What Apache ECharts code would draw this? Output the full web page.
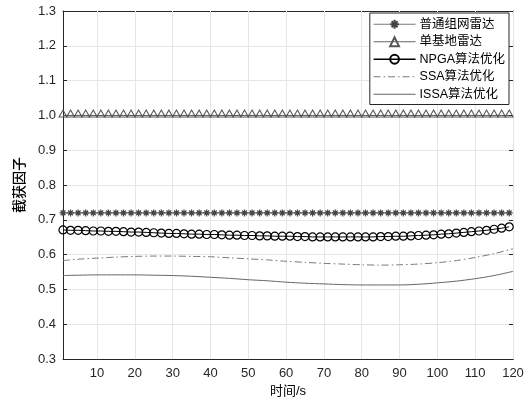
<!DOCTYPE html>
<html>
<head>
<meta charset="utf-8">
<script src="https://cdn.jsdelivr.net/npm/echarts@6/dist/echarts.min.js"></script>
<style>html,body{margin:0;padding:0;background:#fff}#c{width:532px;height:403px}</style>
</head>
<body>
<div id="c"></div>
<script>
// ---- data ----
var seriesNames = ['普通组网雷达', '单基地雷达', 'NPGA算法优化', 'SSA算法优化', 'ISSA算法优化'];
var timeMarked = [1,3,5,7,9,11,13,15,17,19,21,23,25,27,29,31,33,35,37,39,41,43,45,47,49,51,53,55,57,59,61,63,65,67,69,71,73,75,77,79,81,83,85,87,89,91,93,95,97,99,101,103,105,107,109,111,113,115,117,119];
var networkRadar = [0.72,0.72,0.72,0.72,0.72,0.72,0.72,0.72,0.72,0.72,0.72,0.72,0.72,0.72,0.72,0.72,0.72,0.72,0.72,0.72,0.72,0.72,0.72,0.72,0.72,0.72,0.72,0.72,0.72,0.72,0.72,0.72,0.72,0.72,0.72,0.72,0.72,0.72,0.72,0.72,0.72,0.72,0.72,0.72,0.72,0.72,0.72,0.72,0.72,0.72,0.72,0.72,0.72,0.72,0.72,0.72,0.72,0.72,0.72,0.72];
var monoRadar = [1.0,1.0,1.0,1.0,1.0,1.0,1.0,1.0,1.0,1.0,1.0,1.0,1.0,1.0,1.0,1.0,1.0,1.0,1.0,1.0,1.0,1.0,1.0,1.0,1.0,1.0,1.0,1.0,1.0,1.0,1.0,1.0,1.0,1.0,1.0,1.0,1.0,1.0,1.0,1.0,1.0,1.0,1.0,1.0,1.0,1.0,1.0,1.0,1.0,1.0,1.0,1.0,1.0,1.0,1.0,1.0,1.0,1.0,1.0,1.0];
var npga = [0.671,0.670,0.670,0.669,0.668,0.668,0.667,0.667,0.666,0.665,0.665,0.664,0.663,0.662,0.661,0.661,0.660,0.659,0.659,0.658,0.658,0.657,0.656,0.656,0.655,0.655,0.654,0.654,0.653,0.653,0.653,0.652,0.652,0.651,0.651,0.651,0.651,0.651,0.651,0.651,0.651,0.651,0.652,0.652,0.653,0.653,0.654,0.655,0.656,0.657,0.659,0.660,0.662,0.664,0.666,0.668,0.670,0.673,0.676,0.680];
var timeLine = [1,5,10,15,20,25,30,35,40,45,50,55,60,65,70,75,80,85,90,95,100,105,110,115,120];
var ssa = [0.583,0.587,0.590,0.593,0.595,0.596,0.596,0.595,0.594,0.591,0.588,0.585,0.581,0.578,0.575,0.573,0.571,0.570,0.571,0.573,0.577,0.583,0.592,0.603,0.617];
var issa = [0.540,0.541,0.542,0.542,0.542,0.541,0.540,0.538,0.535,0.532,0.528,0.525,0.521,0.518,0.516,0.514,0.513,0.513,0.513,0.515,0.519,0.524,0.531,0.540,0.552];
var xTicks = [10,20,30,40,50,60,70,80,90,100,110,120];
var xMin = 1, xMax = 120, yMin = 0.3, yMax = 1.3, yStep = 0.1;

function pairs(xs, ys) { return xs.map(function (x, i) { return [x, ys[i]]; }); }

var font = '"Liberation Sans", "Noto Sans CJK SC", sans-serif';
var axisColor = '#262626';
var gridColor = '#e6e6e6';
var asterisk = 'path://M5 0 L5 10 M0 5 L10 5 M1.6 1.6 L8.4 8.4 M8.4 1.6 L1.6 8.4';
var hidden = { color: 'rgba(0,0,0,0)', borderColor: 'rgba(0,0,0,0)', borderWidth: 0 };

var chart = echarts.init(document.getElementById('c'), null, { renderer: 'canvas' });
chart.setOption({
  animation: false,
  backgroundColor: '#fff',
  grid: { left: 63, right: 19, top: 11, bottom: 37, containLabel: false },
  legend: {
    orient: 'vertical',
    right: 23, top: 13, z: 20,
    data: [
      { name: seriesNames[0], lineStyle: { color: '#7a7a7a', width: 1 } },
      { name: seriesNames[1], lineStyle: { color: '#666', width: 1 } },
      { name: seriesNames[2], lineStyle: { color: '#000', width: 1.5 } },
      { name: seriesNames[3], itemStyle: hidden, lineStyle: { color: '#7a7a7a', width: 1 } },
      { name: seriesNames[4], itemStyle: hidden, lineStyle: { color: '#666', width: 1 } }
    ],
    backgroundColor: '#fff',
    borderColor: axisColor,
    borderWidth: 1,
    borderRadius: 0,
    padding: [5, 4, 4, 3],
    itemWidth: 42,
    itemHeight: 11,
    itemGap: 5,
    textStyle: { fontFamily: font, fontSize: 12.5, color: '#000', padding: [0, 0, 0, -1] }
  },
  xAxis: [{
    type: 'value', min: xMin, max: xMax,
    name: '时间/s', nameLocation: 'middle', nameGap: 22,
    nameTextStyle: { fontFamily: font, fontSize: 13, color: '#000' },
    axisLine: { show: true, onZero: false, lineStyle: { color: axisColor, width: 1 } },
    axisTick: { show: true, inside: true, length: 4, customValues: xTicks, lineStyle: { color: axisColor } },
    axisLabel: { customValues: xTicks, fontFamily: font, fontSize: 13, color: axisColor, margin: 8 },
    splitLine: { show: false }
  }, {
    type: 'value', min: xMin, max: xMax, position: 'top',
    axisLine: { show: true, onZero: false, lineStyle: { color: axisColor, width: 1 } },
    axisTick: { show: true, inside: true, length: 4, customValues: xTicks, lineStyle: { color: axisColor } },
    axisLabel: { show: false },
    splitLine: { show: false }
  }],
  yAxis: [{
    type: 'value', min: yMin, max: yMax, interval: yStep,
    name: '截获因子', nameLocation: 'middle', nameGap: 31, nameRotate: 90,
    nameTextStyle: { fontFamily: font, fontSize: 14, color: '#000', fontWeight: 500 },
    axisLine: { show: true, onZero: false, lineStyle: { color: axisColor, width: 1 } },
    axisTick: { show: true, inside: true, length: 4, lineStyle: { color: axisColor } },
    axisLabel: { fontFamily: font, fontSize: 13, color: axisColor, margin: 7,
      formatter: function (v) { return v.toFixed(1); } },
    splitLine: { show: true, lineStyle: { color: gridColor, width: 1 } }
  }, {
    type: 'value', min: yMin, max: yMax, interval: yStep, position: 'right',
    axisLine: { show: true, onZero: false, lineStyle: { color: axisColor, width: 1 } },
    axisTick: { show: true, inside: true, length: 4, lineStyle: { color: axisColor } },
    axisLabel: { show: false },
    splitLine: { show: false }
  }],
  series: [
    {
      name: '_grid', type: 'line', data: [], z: 1, silent: true,
      markLine: {
        silent: true, symbol: 'none', label: { show: false }, z: 1,
        lineStyle: { color: gridColor, width: 1, type: 'solid' },
        data: xTicks.map(function (t) { return { xAxis: t }; })
      }
    },
    {
      name: seriesNames[0], type: 'line', z: 3,
      data: pairs(timeMarked, networkRadar),
      symbol: asterisk, symbolSize: 7, showAllSymbol: true,
      lineStyle: { color: '#7a7a7a', width: 1 },
      itemStyle: { color: '#444', borderColor: '#444', borderWidth: 1.2 }
    },
    {
      name: seriesNames[1], type: 'line', z: 3,
      data: pairs(timeMarked, monoRadar),
      symbol: 'triangle', symbolSize: [8, 7], symbolOffset: [0, -2], showAllSymbol: true,
      lineStyle: { color: '#555', width: 1 },
      itemStyle: { color: 'rgba(0,0,0,0)', borderColor: '#555', borderWidth: 1 }
    },
    {
      name: seriesNames[2], type: 'line', z: 4,
      data: pairs(timeMarked, npga),
      symbol: 'circle', symbolSize: 8, showAllSymbol: true,
      lineStyle: { color: '#000', width: 1 },
      itemStyle: { color: 'rgba(0,0,0,0)', borderColor: '#000', borderWidth: 1.2 }
    },
    {
      name: seriesNames[3], type: 'line', z: 3,
      data: pairs(timeLine, ssa), smooth: 0.3,
      symbol: 'none',
      lineStyle: { color: '#7a7a7a', width: 1, type: [7, 3, 1.5, 3] },
      itemStyle: { color: '#7a7a7a' }
    },
    {
      name: seriesNames[4], type: 'line', z: 3,
      data: pairs(timeLine, issa), smooth: 0.3,
      symbol: 'none',
      lineStyle: { color: '#666', width: 1 },
      itemStyle: { color: '#666' }
    }
  ]
});
</script>
</body>
</html>
